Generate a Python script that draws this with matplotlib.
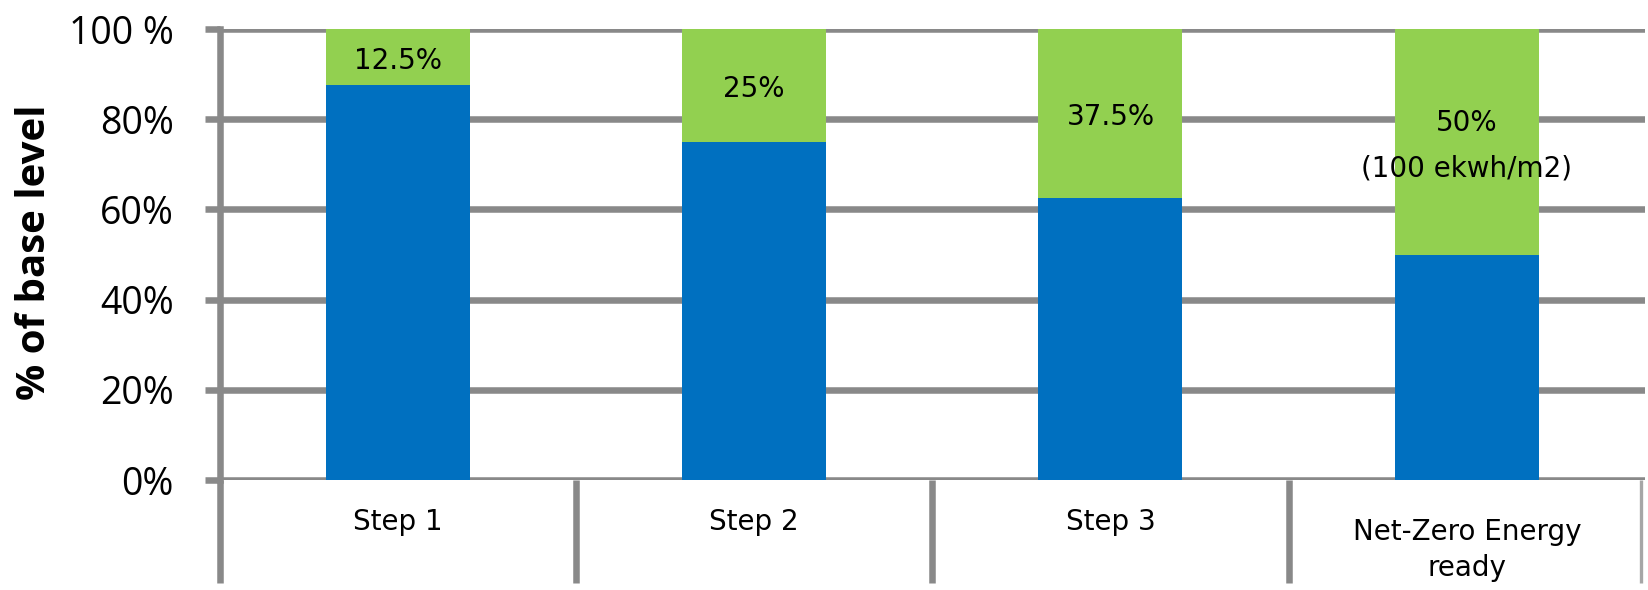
import matplotlib.pyplot as plt
import matplotlib.transforms as mtransforms

# Share of base level energy use per step
categories = ["Step 1", "Step 2", "Step 3", "Net-Zero Energy\nready"]
remaining = [87.5, 75, 62.5, 50]
reduction = [12.5, 25, 37.5, 50]
reduction_labels = ["12.5%", "25%", "37.5%", "50%\n(100 ekwh/m2)"]
yticks = [0, 20, 40, 60, 80, 100]
ytick_labels = ["0%", "20%", "40%", "60%", "80%", "100 %"]

blue = "#0070C0"
green = "#92D050"
grey = "#898989"
lw = 4.7

fig = plt.figure(figsize=(16.48, 5.90), dpi=100)
ax = fig.add_axes([0.1332, 0.1864, 0.865, 0.7644])

x = range(len(categories))
ax.bar(x, remaining, width=0.404, color=blue, zorder=3)
ax.bar(x, reduction, width=0.404, bottom=remaining, color=green, zorder=3)

for i, (b, r, lab) in enumerate(zip(remaining, reduction, reduction_labels)):
    ax.text(i, b + r / 2 - 0.8, lab, ha="center", va="center", fontsize=20,
            family="DejaVu Sans", linespacing=1.8, zorder=4)

ax.set_xlim(-0.5, 3.5)
ax.set_ylim(0, 100)
ax.set_yticks(yticks)
ax.set_yticklabels(ytick_labels, family="Open Sans", fontsize=27)
ax.tick_params(axis="y", length=11, width=lw, color=grey, pad=22)
ax.yaxis.grid(True, color=grey, lw=lw, zorder=1)

ax.set_xticks([])
trans = mtransforms.blended_transform_factory(ax.transData, ax.transAxes)
for i, cat in enumerate(categories):
    ypos = -0.155 if "\n" in cat else -0.093
    ax.text(i, ypos, cat, transform=trans, ha="center", va="center",
            family="DejaVu Sans", fontsize=20, linespacing=1.4)

for s in ["top", "right", "bottom"]:
    ax.spines[s].set_visible(False)
ax.spines["left"].set_color(grey)
ax.spines["left"].set_linewidth(lw)

# category dividers below the axis
for xd in [-0.5, 0.5, 1.5, 2.5]:
    ax.plot([xd, xd], [0, -0.228], color=grey, lw=lw, transform=trans,
            clip_on=False, solid_capstyle="butt")
ax.plot([3.49, 3.49], [0, -0.228], color="#a6a6a6", lw=2.4, transform=trans,
        clip_on=False, solid_capstyle="butt")

fig.text(35 / 1648, 1 - 252 / 590, "% of base level", rotation=90,
         ha="center", va="center", fontsize=29, fontweight="bold",
         family="Open Sans")

fig.savefig("out.png", dpi=100)
